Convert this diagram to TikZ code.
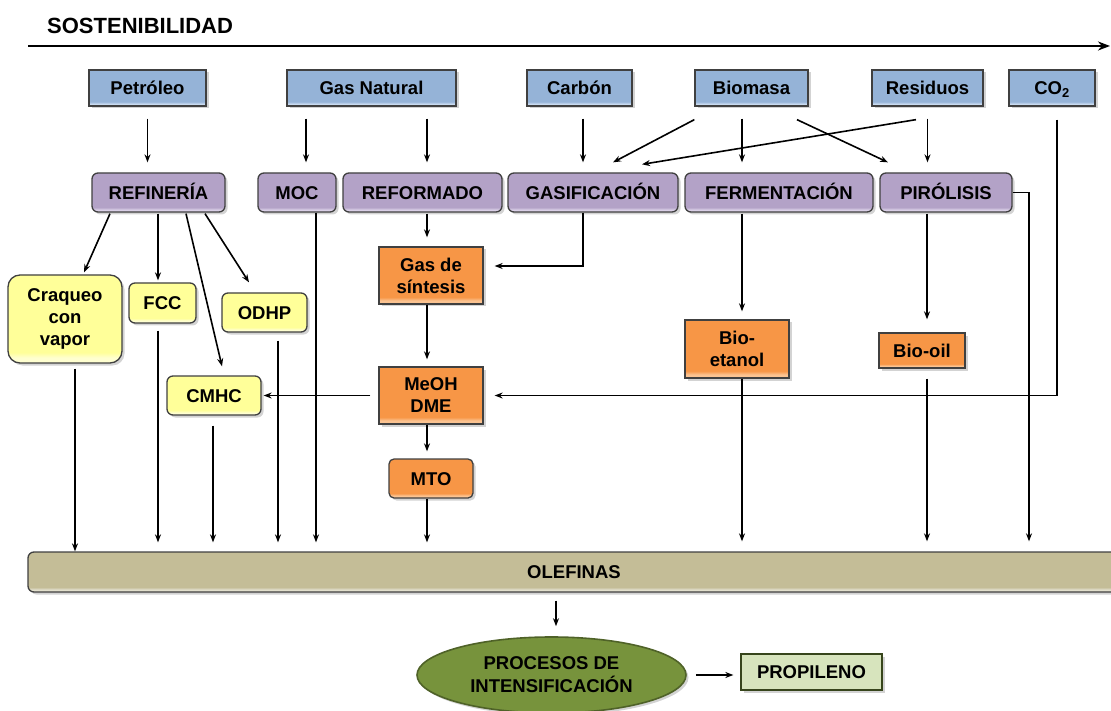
\documentclass[tikz,border=0pt]{standalone}
\usepackage{fontspec}
\setmainfont{Liberation Sans}
\usetikzlibrary{arrows.meta,shadows,shapes.geometric}
\definecolor{bluB}{HTML}{95B3D7}\definecolor{bluL}{HTML}{C9DBF0}
\definecolor{purB}{HTML}{B3A2C7}\definecolor{purL}{HTML}{D9CFE6}
\definecolor{yelB}{HTML}{FFFF99}\definecolor{yelL}{HTML}{FFFFD0}
\definecolor{orgB}{HTML}{F79646}\definecolor{orgL}{HTML}{FBC391}
\definecolor{oleB}{HTML}{C4BD97}\definecolor{oleL}{HTML}{E2DFCC}
\definecolor{grnB}{HTML}{77933C}\definecolor{grnD}{HTML}{4F6228}
\definecolor{prpB}{HTML}{D7E4BD}
\definecolor{edge}{HTML}{404040}
\pgfdeclareverticalshading{shblu}{100bp}{color(0bp)=(bluL); color(28bp)=(bluL); color(31bp)=(bluB); color(100bp)=(bluB)}
\pgfdeclareverticalshading{shpur}{100bp}{color(0bp)=(purL); color(28bp)=(purL); color(31bp)=(purB); color(100bp)=(purB)}
\pgfdeclareverticalshading{shyel}{100bp}{color(0bp)=(yelL); color(28bp)=(yelL); color(31bp)=(yelB); color(100bp)=(yelB)}
\pgfdeclareverticalshading{shorg}{100bp}{color(0bp)=(orgL); color(28bp)=(orgL); color(31bp)=(orgB); color(100bp)=(orgB)}
\pgfdeclareverticalshading{shole}{100bp}{color(0bp)=(oleL); color(28bp)=(oleL); color(31bp)=(oleB); color(100bp)=(oleB)}
\tikzset{
  box/.style={draw=edge, line width=1.3pt, font=\fontsize{18.5}{22}\selectfont\bfseries,
    align=center, inner sep=0pt,
    drop shadow={shadow xshift=2.5pt, shadow yshift=-2.5pt, opacity=0.35}},
  one/.style={text height=13.3pt, text depth=0pt},
  bluebox/.style={box, one, shade, shading=shblu, minimum height=36pt},
  purbox/.style={box, one, shade, shading=shpur, rounded corners=6pt, minimum height=39pt},
  yelbox/.style={box, shade, shading=shyel, rounded corners=6pt},
  orgbox/.style={box, shade, shading=shorg},
  arr/.style={-{Stealth[length=8pt,width=6pt]}, line width=1.6pt},
}
\begin{document}
\begin{tikzpicture}[x=1pt,y=-1pt]
\useasboundingbox (0,0) rectangle (1111,711);
% title
\node[anchor=west, font=\fontsize{22}{26}\selectfont\bfseries, inner sep=0pt] (title) at (47,26) {SOSTENIBILIDAD};
\coordinate (sL) at (28,46);
\coordinate (sR) at (1110,46);
\draw[line width=2.2pt, -{Stealth[length=12pt,width=9pt]}] (sL) -- (sR);
% sources
\node[bluebox, minimum width=117pt] (pet) at (147.5,88) {Petróleo};
\node[bluebox, minimum width=169pt] (gn) at (371.5,88) {Gas Natural};
\node[bluebox, minimum width=105pt] (car) at (579.5,88) {Carbón};
\node[bluebox, minimum width=113pt] (bio) at (751.5,88) {Biomasa};
\node[bluebox, minimum width=111pt] (res) at (927.5,88) {Residuos};
\node[bluebox, minimum width=86pt] (co2) at (1052,88) {CO\textsubscript{2}};
% processes
\node[purbox, minimum width=133pt] (ref) at (158.5,192.5) {REFINERÍA};
\node[purbox, minimum width=78pt] (moc) at (297,192.5) {MOC};
\node[purbox, minimum width=159pt] (refo) at (422.5,192.5) {REFORMADO};
\node[purbox, minimum width=170pt] (gas) at (593,192.5) {GASIFICACIÓN};
\node[purbox, minimum width=188pt] (fer) at (779,192.5) {FERMENTACIÓN};
\node[purbox, minimum width=132pt] (pir) at (946,192.5) {PIRÓLISIS};
% refinery products
\node[yelbox, rounded corners=12pt, minimum width=114pt, minimum height=88pt] (craq) at (65,319) {Craqueo\\con\\vapor};
\node[yelbox, one, minimum width=67pt, minimum height=40pt] (fcc) at (162.5,303) {FCC};
\node[yelbox, one, minimum width=85pt, minimum height=39pt] (odhp) at (264.5,312.5) {ODHP};
\node[yelbox, one, minimum width=94pt, minimum height=39pt] (cmhc) at (214,395.5) {CMHC};
% intermediates
\node[orgbox, minimum width=104pt, minimum height=57pt] (syn) at (431,275.5) {Gas de\\síntesis};
\node[orgbox, minimum width=104pt, minimum height=57pt] (meoh) at (431,395.5) {MeOH\\DME};
\node[orgbox, one, rounded corners=5pt, minimum width=84pt, minimum height=39pt] (mto) at (431,478.5) {MTO};
\node[orgbox, minimum width=104pt, minimum height=58pt] (bioet) at (737,349) {Bio-\\etanol};
\node[orgbox, one, minimum width=86pt, minimum height=35pt] (biooil) at (922,350.5) {Bio-oil};
% olefins
\node[box, one, shade, shading=shole, rounded corners=6pt, minimum width=1092pt, minimum height=40pt] (olef) at (574,572) {OLEFINAS};
\node[ellipse, draw=grnD, fill=grnB, line width=1.6pt, minimum width=269pt, minimum height=76pt,
  font=\fontsize{18.5}{23}\selectfont\bfseries, align=center, inner sep=0pt,
  drop shadow={shadow xshift=2.5pt, shadow yshift=-2.5pt, opacity=0.35}] (proc) at (551.5,675) {PROCESOS DE\\INTENSIFICACIÓN};
\node[box, one, fill=prpB, draw=grnD!70!black, minimum width=141pt, minimum height=36pt] (prop) at (811.5,672) {PROPILENO};
% connectors from sources
\draw[arr, shorten <=12pt, shorten >=10pt] (pet.south) -- (pet.south |- ref.north);
\draw[arr, shorten <=12pt, shorten >=10pt] ([xshift=9pt]moc.north |- gn.south) -- ([xshift=9pt]moc.north);
\draw[arr, shorten <=12pt, shorten >=10pt] ([xshift=4.5pt]refo.north |- gn.south) -- ([xshift=4.5pt]refo.north);
\draw[arr, shorten <=12pt, shorten >=10pt] ([xshift=3.5pt]car.south) -- ([xshift=3.5pt]car.south |- gas.north);
\draw[arr] ([yshift=-13pt]bio.south west) -- ([xshift=20pt,yshift=10pt]gas.north);
\draw[arr, shorten <=12pt, shorten >=10pt] ([xshift=-9.5pt]bio.south) -- ([xshift=-9.5pt]bio.south |- fer.north);
\draw[arr] ([xshift=45.5pt,yshift=-13pt]bio.south) -- ([xshift=-58pt,yshift=10pt]pir.north);
\draw[arr] ([xshift=-11.5pt,yshift=-13pt]res.south) -- ([xshift=49pt,yshift=8pt]gas.north);
\draw[arr, shorten <=12pt, shorten >=10pt] (res.south) -- (res.south |- pir.north);
\draw[arr] ([xshift=5pt,yshift=-13pt]co2.south) |- ([xshift=11pt]meoh.east);
% refinery
\draw[arr] ([xshift=-48.5pt,yshift=-1pt]ref.south) -- ([xshift=19pt,yshift=2pt]craq.north);
\draw[arr, shorten <=1pt, shorten >=2pt] ([xshift=-0.5pt]ref.south) -- ([xshift=-0.5pt]ref.south |- fcc.north);
\draw[arr] ([xshift=27.5pt,yshift=-1pt]ref.south) -- ([xshift=8pt,yshift=9pt]cmhc.north);
\draw[arr] ([xshift=46.5pt,yshift=-1pt]ref.south) -- ([xshift=-15.5pt,yshift=10pt]odhp.north);
% reforming chain
\draw[arr, shorten <=1pt, shorten >=9pt] ([xshift=4.5pt]refo.south) -- ([xshift=4.5pt]refo.south |- syn.north);
\draw[arr] ([xshift=-10pt]gas.south) |- ([xshift=11pt,yshift=9.5pt]syn.east);
\draw[arr, shorten >=7pt] ([xshift=-4pt]syn.south) -- ([xshift=-4pt]syn.south |- meoh.north);
\draw[arr] ([xshift=-8pt]meoh.west) -- ([xshift=2pt]cmhc.east);
\draw[arr, shorten >=7pt] ([xshift=-4pt]meoh.south) -- ([xshift=-4pt]meoh.south |- mto.north);
\draw[arr, shorten >=9pt] ([xshift=-4pt]mto.south) -- ([xshift=-4pt]mto.south |- olef.north);
% bio routes
\draw[arr, shorten <=1pt, shorten >=8pt] ([xshift=-37pt]fer.south) -- ([xshift=-37pt]fer.south |- bioet.north);
\draw[arr, shorten >=10pt] ([xshift=5pt]bioet.south) -- ([xshift=5pt]bioet.south |- olef.north);
\draw[arr, shorten <=1pt, shorten >=13pt] ([xshift=-19pt]pir.south) -- ([xshift=-19pt]pir.south |- biooil.north);
\draw[arr, shorten <=10pt, shorten >=10pt] ([xshift=5pt]biooil.south) -- ([xshift=5pt]biooil.south |- olef.north);
\draw[arr, shorten >=10pt] (pir.east) -| ([xshift=455pt]olef.north);
% to olefins
\draw[arr] ([xshift=10pt,yshift=-5pt]craq.south) -- ([xshift=10pt]craq.south |- olef.north);
\draw[arr, shorten <=7pt, shorten >=9pt] ([xshift=-4.5pt]fcc.south) -- ([xshift=-4.5pt]fcc.south |- olef.north);
\draw[arr, shorten <=10pt, shorten >=9pt] ([xshift=-1pt]cmhc.south) -- ([xshift=-1pt]cmhc.south |- olef.north);
\draw[arr, shorten <=8pt, shorten >=9pt] ([xshift=13.5pt]odhp.south) -- ([xshift=13.5pt]odhp.south |- olef.north);
\draw[arr, shorten >=9pt] ([xshift=19pt]moc.south) -- ([xshift=19pt]moc.south |- olef.north);
% bottom
\draw[arr, shorten <=8pt, shorten >=10pt] ([xshift=-18pt]olef.south) -- ([xshift=-18pt]olef.south |- proc.north);
\draw[arr] ([xshift=9pt]proc.east) -- ([xshift=-7pt]prop.west |- proc.east);
\end{tikzpicture}
\end{document}
